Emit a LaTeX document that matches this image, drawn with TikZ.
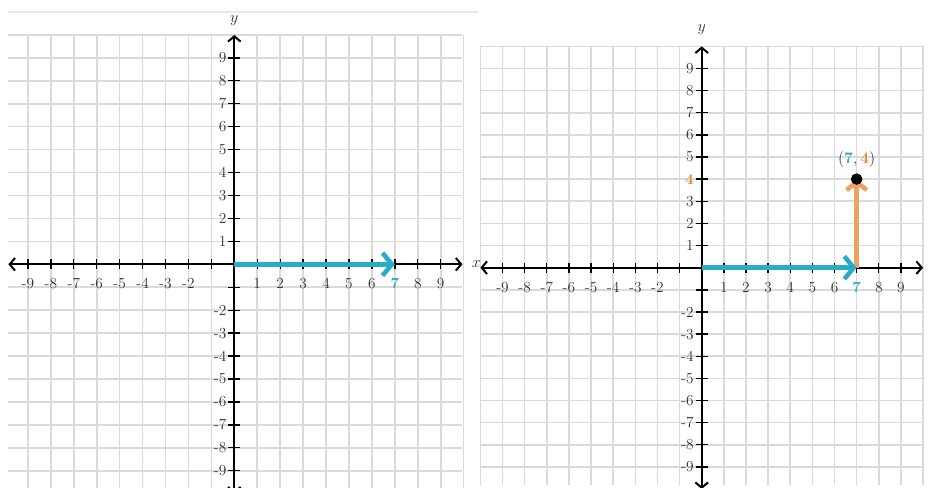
\documentclass[tikz,border=0pt]{standalone}
\usetikzlibrary{arrows.meta}
\definecolor{kblue}{HTML}{29ABCA}
\definecolor{korange}{HTML}{EBA35E}
\definecolor{korangetext}{HTML}{E08A2C}
\definecolor{gridgray}{HTML}{DADADA}
\definecolor{labelgray}{HTML}{333333}
\tikzset{
  gridline/.style={gridgray, line width=1.2pt},
  sepline/.style={gray!18, line width=1.3pt},
  axisline/.style={black, line width=1.5pt, {Straight Barb[length=4pt,width=9.5pt]}-{Straight Barb[length=4pt,width=9.5pt]}},
  tickmark/.style={black, line width=1pt},
  numlabel/.style={font=\fontsize{11.5}{13}\selectfont, text=labelgray, inner sep=1pt},
  axlabel/.style={font=\fontsize{11.5}{13}\selectfont, text=labelgray, inner sep=1pt},
  vecx/.style={kblue, line width=3.4pt, -{Straight Barb[length=7pt,width=17pt]}},
  vecy/.style={korange, line width=3.4pt, -{Straight Barb[length=6pt,width=15pt]}},
  ptdot/.style={circle, fill=black, minimum size=8.5pt, inner sep=0pt},
}
\begin{document}
\begin{tikzpicture}[x=0.75pt, y=-0.75pt]
\clip (0,0) rectangle (931,488);
\fill[white] (0,0) rectangle (931,488);
\coordinate (sepA) at (8,12);
\coordinate (sepB) at (478,12);
\draw[sepline] (sepA) -- (sepB);

% ---------- left panel ----------
\begin{scope}[shift={(234.3,264.3)}, x=17.2pt, y=17.2pt]
  \foreach \i in {-9,...,10} \draw[gridline] (\i,-9.8) -- (\i,10);
  \foreach \j in {-9,...,10} \draw[gridline] (-9.85,\j) -- (9.95,\j);
  \coordinate (Lxl) at (-9.85,0);
  \coordinate (Lxr) at (9.95,0);
  \coordinate (Lyb) at (0,-10);
  \coordinate (Lyt) at (0,10);
  \coordinate (LO) at (0,0);
  \coordinate (L7) at (7,0);
  \draw[axisline] (Lxl) -- (Lxr);
  \draw[axisline] (Lyb) -- (Lyt);
  \foreach \i in {-9,...,-1,1,2,...,9} \draw[tickmark] (\i,-0.22) -- (\i,0.22);
  \foreach \j in {-9,...,-1,1,2,...,9} \draw[tickmark] (-0.27,\j) -- (0.27,\j);
  \foreach \i in {-9,...,-2} \node[numlabel] (Lxn\i) at (\i,-0.85) {\i};
  \foreach \i in {1,...,6,8,9} \node[numlabel] (Lxp\i) at (\i,-0.85) {\i};
  \node[numlabel, text=kblue, font=\fontsize{11.5}{13}\selectfont\bfseries] (Lx7) at (7,-0.85) {7};
  \foreach \j in {-9,...,-2,1,2,...,9} \node[numlabel, anchor=east] (Ly\j) at (-0.28,\j) {\j};
  \node[axlabel] (Lylab) at (0,10.63) {$y$};
  \node[axlabel] (Lxlab) at (10.55,0) {$x$};
  \draw[vecx] (LO) -- (L7);
\end{scope}

% ---------- right panel ----------
\begin{scope}[shift={(701.7,267.7)}, x=16.6pt, y=16.6pt]
  \foreach \i in {-10,...,10} \draw[gridline] (\i,-9.83) -- (\i,10);
  \foreach \j in {-9,...,10} \draw[gridline] (-10,\j) -- (10,\j);
  \coordinate (Rxl) at (-10,0);
  \coordinate (Rxr) at (10,0);
  \coordinate (Ryb) at (0,-10);
  \coordinate (Ryt) at (0,10);
  \coordinate (RO) at (0,0);
  \coordinate (R7) at (7,0);
  \draw[axisline] (Rxl) -- (Rxr);
  \draw[axisline] (Ryb) -- (Ryt);
  \foreach \i in {-9,...,-1,1,2,...,9} \draw[tickmark] (\i,-0.23) -- (\i,0.23);
  \foreach \j in {-9,...,-1,1,2,...,9} \draw[tickmark] (-0.28,\j) -- (0.28,\j);
  \foreach \i in {-9,...,-2} \node[numlabel] (Rxn\i) at (\i,-0.88) {\i};
  \foreach \i in {1,...,6,8,9} \node[numlabel] (Rxp\i) at (\i,-0.88) {\i};
  \node[numlabel, text=kblue, font=\fontsize{11.5}{13}\selectfont\bfseries] (Rx7) at (7,-0.88) {7};
  \foreach \j in {-9,...,-2,1,2,3,5,6,...,9} \node[numlabel, anchor=east] (Ry\j) at (-0.29,\j) {\j};
  \node[numlabel, anchor=east, text=korangetext, font=\fontsize{11.5}{13}\selectfont\bfseries] (Ry4) at (-0.29,4) {4};
  \node[axlabel] (Rylab) at (0,10.74) {$y$};
  \node[ptdot] (P) at (7,4) {};
  \draw[vecy] (R7) -- (P.center);
  \draw[vecx] (RO) -- (R7);
  \node[ptdot] (P2) at (7,4) {};
  \node[axlabel] (Plab) at (7,4.87) {$(\textcolor{kblue}{\mathbf{7}},\textcolor{korangetext}{\mathbf{4}})$};
\end{scope}
\end{tikzpicture}
\end{document}
